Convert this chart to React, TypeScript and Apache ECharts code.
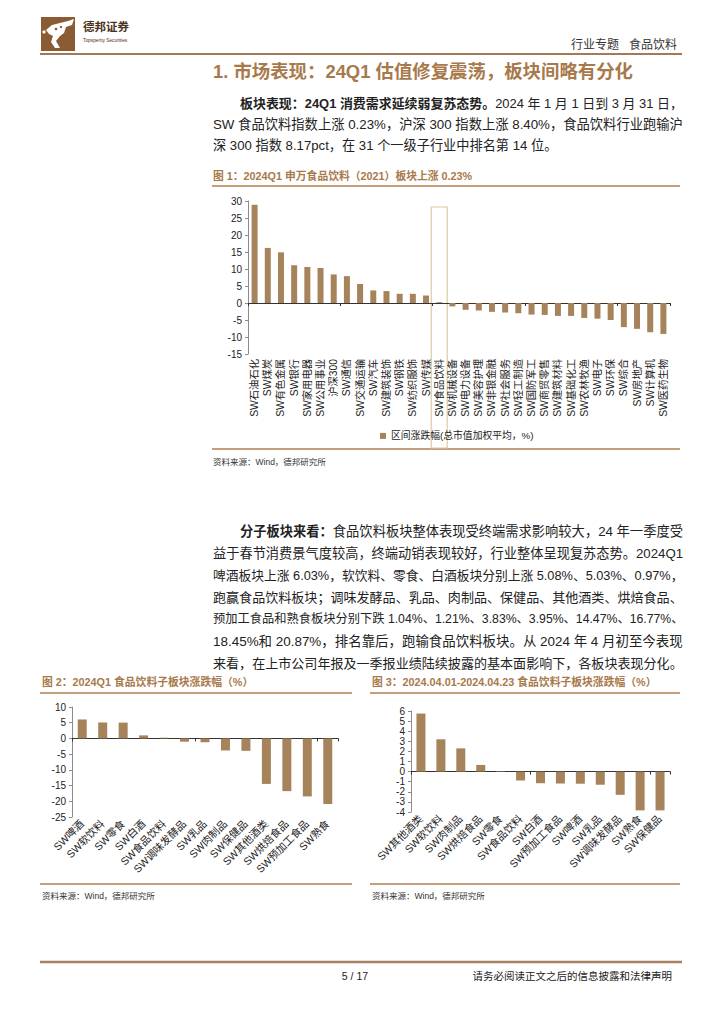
import React, { useEffect, useRef } from "react";
import * as echarts from "echarts";

// ---------- data ----------
const fig1Categories = [
  "SW石油石化", "SW煤炭", "SW有色金属", "SW银行", "SW家用电器", "SW公用事业", "沪深300", "SW通信",
  "SW交通运输", "SW汽车", "SW建筑装饰", "SW钢铁", "SW纺织服饰", "SW传媒", "SW食品饮料", "SW机械设备",
  "SW电力设备", "SW美容护理", "SW非银金融", "SW社会服务", "SW轻工制造", "SW国防军工", "SW商贸零售", "SW建筑材料",
  "SW基础化工", "SW农林牧渔", "SW电子", "SW环保", "SW综合", "SW房地产", "SW计算机", "SW医药生物",
];
const fig1Values = [
  28.9, 16.2, 14.9, 11.1, 10.6, 10.3, 8.4, 7.9,
  5.6, 3.7, 3.5, 2.7, 2.7, 2.2, 0.23, -1.0,
  -2.0, -2.2, -2.6, -2.8, -3.0, -3.4, -3.5, -3.8,
  -3.8, -4.4, -4.6, -5.0, -7.1, -7.6, -8.6, -9.1,
];
const fig1Axis = { min: -15, max: 30, interval: 5 };
const fig1SeriesName = "区间涨跌幅(总市值加权平均，%)";
const fig1Highlight = "SW食品饮料";

const fig2Categories = [
  "SW啤酒", "SW软饮料", "SW零食", "SW白酒", "SW食品饮料", "SW调味发酵品", "SW乳品",
  "SW肉制品", "SW保健品", "SW其他酒类", "SW烘焙食品", "SW预加工食品", "SW熟食",
];
const fig2Values = [6.03, 5.08, 5.03, 0.97, 0.23, -1.04, -1.21, -3.83, -3.95, -14.47, -16.77, -18.45, -20.87];
const fig2Axis = { min: -25, max: 10, interval: 5 };

const fig3Categories = [
  "SW其他酒类", "SW软饮料", "SW肉制品", "SW烘焙食品", "SW零食", "SW食品饮料", "SW白酒",
  "SW预加工食品", "SW啤酒", "SW乳品", "SW调味发酵品", "SW熟食", "SW保健品",
];
const fig3Values = [5.75, 3.2, 2.3, 0.66, 0.05, -0.88, -1.15, -1.18, -1.2, -1.3, -2.3, -3.84, -3.84];
const fig3Axis = { min: -4, max: 6, interval: 1 };

const headerRight = "行业专题   食品饮料";
const sectionTitle = "1. 市场表现：24Q1 估值修复震荡，板块间略有分化";
const para1Bold = "板块表现：24Q1 消费需求延续弱复苏态势。";
const para1Lines = [
  "2024 年 1 月 1 日到 3 月 31 日，",
  "SW 食品饮料指数上涨 0.23%，沪深 300 指数上涨 8.40%，食品饮料行业跑输沪",
  "深 300 指数 8.17pct，在 31 个一级子行业中排名第 14 位。",
];
const para2Bold = "分子板块来看：";
const para2Lines = [
  "食品饮料板块整体表现受终端需求影响较大，24 年一季度受",
  "益于春节消费景气度较高，终端动销表现较好，行业整体呈现复苏态势。2024Q1",
  "啤酒板块上涨 6.03%，软饮料、零食、白酒板块分别上涨 5.08%、5.03%、0.97%，",
  "跑赢食品饮料板块；调味发酵品、乳品、肉制品、保健品、其他酒类、烘焙食品、",
  "预加工食品和熟食板块分别下跌 1.04%、1.21%、3.83%、3.95%、14.47%、16.77%、",
  "18.45%和 20.87%，排名靠后，跑输食品饮料板块。从 2024 年 4 月初至今表现",
  "来看，在上市公司年报及一季报业绩陆续披露的基本面影响下，各板块表现分化。",
];
const fig1Title = "图 1：2024Q1 申万食品饮料（2021）板块上涨 0.23%";
const fig2Title = "图 2：2024Q1 食品饮料子板块涨跌幅（%）";
const fig3Title = "图 3：2024.04.01-2024.04.23 食品饮料子板块涨跌幅（%）";
const sourceText = "资料来源：Wind，德邦研究所";
const pageText = "5 / 17";
const disclaimer = "请务必阅读正文之后的信息披露和法律声明";

// ---------- styles ----------
const FONT = '"Liberation Sans", "Noto Sans CJK SC", sans-serif';
const BROWN = "#a8794b";
const BAR = "#a6835a";
const TEXT = "#222222";
const BODY_SIZE = 13.2;

let measureCtx: CanvasRenderingContext2D | null = null;
function measure(text: string, size: number, bold: boolean) {
  if (!measureCtx) measureCtx = document.createElement("canvas").getContext("2d");
  if (!measureCtx) return text.length * size;
  measureCtx.font = `${bold ? "bold " : ""}${size}px ${FONT}`;
  return measureCtx.measureText(text).width;
}

function txt(x: number, y: number, text: string, size: number, opts: any = {}) {
  return {
    type: "text",
    x,
    y,
    silent: true,
    style: {
      text,
      fontSize: size,
      fontFamily: FONT,
      fontWeight: opts.bold ? "bold" : "normal",
      fill: opts.color || TEXT,
      align: opts.align || "left",
      verticalAlign: "middle",
      rich: opts.rich,
    },
  };
}
function hline(x1: number, x2: number, y: number, color: string, w: number) {
  return { type: "line", silent: true, shape: { x1, y1: y, x2, y2: y }, style: { stroke: color, lineWidth: w } };
}

// paragraph lines; every line except the last is fitted to the right margin
function paragraph(boldLead: string, lines: string[], y0: number, step: number) {
  const right = 683;
  const out: any[] = [];
  lines.forEach((line, i) => {
    const x = i === 0 ? 240 : 213;
    const target = right - x;
    const w =
      (i === 0 ? measure(boldLead, BODY_SIZE, true) : 0) + measure(line, BODY_SIZE, false);
    let size = BODY_SIZE;
    if (i < lines.length - 1 || w > target) size = Math.min(13.5, (BODY_SIZE * target) / w);
    if (i === lines.length - 1 && w <= target) size = BODY_SIZE;
    const text = i === 0 ? `{b|${boldLead}}{n|${line}}` : `{n|${line}}`;
    out.push(
      txt(x, y0 + i * step, text, size, {
        rich: {
          b: { fontWeight: "bold", fontSize: size, fontFamily: FONT, fill: TEXT },
          n: { fontSize: size, fontFamily: FONT, fill: TEXT },
        },
      })
    );
  });
  return out;
}

function makeGrid(left: number, top: number, width: number, height: number) {
  return { left, top, width, height, containLabel: false };
}

function catAxes(gridIndex: number, data: string[], rotate: number, size: number) {
  return [
    {
      type: "category",
      gridIndex,
      data,
      axisLine: { show: true, onZero: true, lineStyle: { color: "#333", width: 1 } },
      axisTick: { show: true, length: 3, lineStyle: { color: "#333" } },
      axisLabel: { show: false },
      splitLine: { show: false },
    },
    {
      type: "category",
      gridIndex,
      data,
      position: "bottom",
      axisLine: { show: false, onZero: false },
      axisTick: { show: false },
      axisLabel: {
        show: true,
        interval: 0,
        rotate,
        margin: 5,
        fontSize: size,
        fontFamily: FONT,
        color: TEXT,
      },
      splitLine: { show: false },
    },
  ];
}

function valAxis(gridIndex: number, r: { min: number; max: number; interval: number }, size: number) {
  return {
    type: "value",
    gridIndex,
    min: r.min,
    max: r.max,
    interval: r.interval,
    axisLine: { show: true, lineStyle: { color: "#8c8c8c" } },
    axisTick: { show: true, length: 3, lineStyle: { color: "#8c8c8c" } },
    axisLabel: { fontSize: size, fontFamily: FONT, color: TEXT, margin: 6 },
    splitLine: { show: false },
  };
}

function logo() {
  return {
    type: "group",
    silent: true,
    children: [
      { type: "rect", shape: { x: 41, y: 17, width: 34, height: 34 }, style: { fill: "#8b5b34" } },
      {
        type: "polygon",
        shape: {
          points: [
            [46, 30], [52, 25], [60, 23], [68, 21], [74, 19], [72, 25], [66, 27], [64, 33],
            [60, 36], [56, 41], [60, 48], [55, 48], [51, 42], [53, 36], [49, 34],
          ],
        },
        style: { fill: "#ffffff" },
      },
      { type: "circle", shape: { cx: 44, cy: 32, r: 1.6 }, style: { fill: "#ffffff" } },
      { type: "circle", shape: { cx: 56, cy: 29, r: 1.3 }, style: { fill: "#8b5b34" } },
      { type: "circle", shape: { cx: 61, cy: 27, r: 1.2 }, style: { fill: "#8b5b34" } },
    ],
  };
}

export default function App() {
  const ref = useRef<HTMLDivElement>(null);

  useEffect(() => {
    if (!ref.current) return;
    const chart = echarts.init(ref.current, null, { renderer: "svg", width: 724, height: 1024 });

    const graphics: any[] = [
      logo(),
      txt(83, 27, "德邦证券", 11.5, { bold: true, color: "#4a3222" }),
      txt(83, 40, "Topsperity Securities", 4.8, { color: "#4a3222" }),
      txt(677, 45, headerRight, 12, { align: "right", color: "#333" }),
      hline(40, 682, 54, "#a37a55", 2.2),
      txt(213, 71, sectionTitle, 18.4, { bold: true, color: BROWN }),
      ...paragraph(para1Bold, para1Lines, 103, 21),
      ...paragraph(para2Bold, para2Lines, 531, 22),
      txt(213, 176, fig1Title, 10.8, { bold: true, color: BROWN }),
      hline(212, 680, 186, "#b07d4f", 1.5),
      hline(212, 680, 449, "#b07d4f", 1.5),
      txt(213, 462, sourceText, 8.5, { color: "#333" }),
      txt(42, 682, fig2Title, 10.8, { bold: true, color: BROWN }),
      hline(40, 352, 693, "#b07d4f", 1.5),
      hline(40, 352, 884, "#b07d4f", 1.5),
      txt(42, 896, sourceText, 8.5, { color: "#333" }),
      txt(372, 682, fig3Title, 10.8, { bold: true, color: BROWN }),
      hline(370, 680, 693, "#b07d4f", 1.5),
      hline(370, 680, 884, "#b07d4f", 1.5),
      txt(372, 896, sourceText, 8.5, { color: "#333" }),
      hline(40, 682, 962, "#a58062", 2.5),
      txt(355, 976, pageText, 10.5, { align: "center", color: "#222" }),
      txt(672, 976, disclaimer, 10.5, { align: "right", color: "#222" }),
    ];

    const option: any = {
      animation: false,
      backgroundColor: "#ffffff",
      textStyle: { fontFamily: FONT },
      grid: [makeGrid(248, 201, 422, 153), makeGrid(72, 707, 266, 110), makeGrid(411, 711, 259, 101)],
      xAxis: [
        ...catAxes(0, fig1Categories, 90, 10.3),
        ...catAxes(1, fig2Categories, 45, 10.5),
        ...catAxes(2, fig3Categories, 45, 10.5),
      ],
      yAxis: [valAxis(0, fig1Axis, 10), valAxis(1, fig2Axis, 10), valAxis(2, fig3Axis, 10)],
      legend: {
        data: [fig1SeriesName],
        left: 375,
        top: 426,
        icon: "rect",
        itemWidth: 6,
        itemHeight: 6,
        textStyle: { fontSize: 9.8, fontFamily: FONT, color: TEXT },
      },
      series: [
        { name: fig1SeriesName, type: "bar", xAxisIndex: 0, yAxisIndex: 0, data: fig1Values, barWidth: 6, itemStyle: { color: BAR } },
        { name: "fig2", type: "bar", xAxisIndex: 2, yAxisIndex: 1, data: fig2Values, barWidth: 9, itemStyle: { color: BAR } },
        { name: "fig3", type: "bar", xAxisIndex: 4, yAxisIndex: 2, data: fig3Values, barWidth: 9, itemStyle: { color: BAR } },
      ],
      graphic: graphics,
    };
    chart.setOption(option);

    const cx = chart.convertToPixel({ xAxisIndex: 0 } as any, fig1Highlight) as any;
    const hx = Array.isArray(cx) ? cx[0] : cx;
    chart.setOption({
      graphic: [
        ...graphics,
        {
          type: "rect",
          silent: true,
          shape: { x: hx - 8, y: 207, width: 16, height: 241 },
          style: { fill: "none", stroke: "#dccaa2", lineWidth: 1.2 },
        },
      ],
    });

    return () => chart.dispose();
  }, []);

  return (
    <div style={{ position: "absolute", left: 0, top: 0, width: 724, height: 1024, background: "#fff" }}>
      <div ref={ref} style={{ width: 724, height: 1024 }} />
    </div>
  );
}
